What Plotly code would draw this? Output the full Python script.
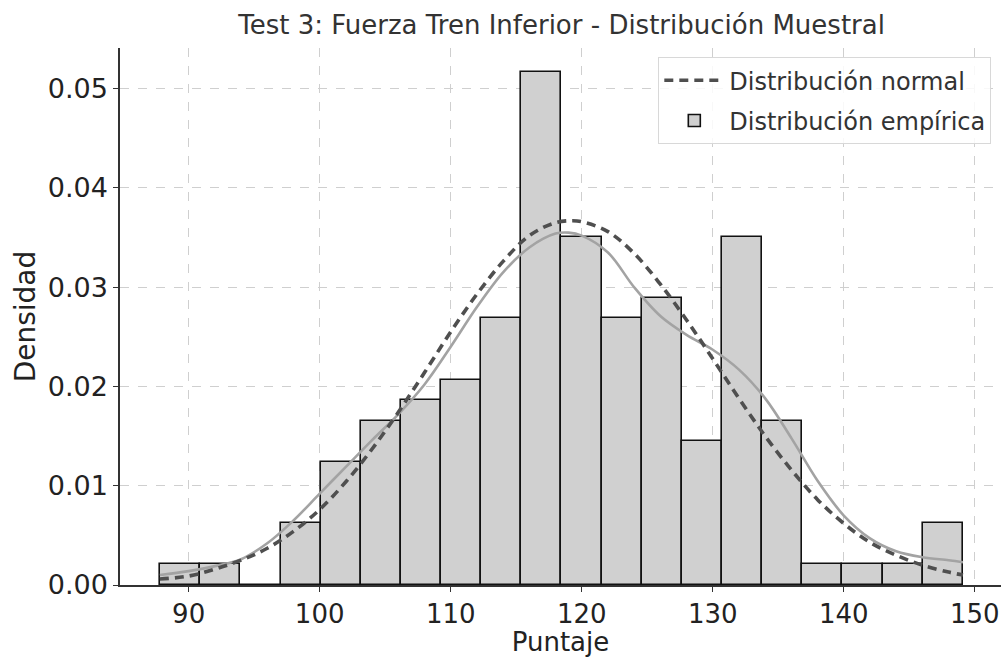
import plotly.graph_objects as go

# Histogram bin edges (Puntaje) and densities
bin_edges = [87.82, 90.88, 93.95, 97.01, 100.07, 103.14, 106.20, 109.26, 112.33,
             115.39, 118.45, 121.51, 124.58, 127.64, 130.70, 133.77, 136.83,
             139.89, 142.96, 146.02, 149.08]
densities = [0.00207, 0.00207, 0.0, 0.0062, 0.0124, 0.0165, 0.0186, 0.0207, 0.0269,
             0.0517, 0.0351, 0.0269, 0.0289, 0.0145, 0.0351, 0.0165,
             0.00207, 0.00207, 0.00207, 0.0062]

# Normal distribution curve (dashed)
normal_x = [87.8, 90, 92, 94, 96, 98, 100, 102, 104, 106, 108, 110, 112, 114, 116,
            118, 119.3, 120, 122, 124, 126, 128, 130, 132, 134, 136, 138, 140,
            142, 144, 146, 148, 149.1]
normal_y = [0.0006, 0.0009, 0.0016, 0.0025, 0.0037, 0.0054, 0.0076, 0.0104, 0.0137,
            0.0174, 0.0214, 0.0255, 0.0293, 0.0326, 0.0352, 0.0365, 0.0367, 0.0366,
            0.0356, 0.0334, 0.0303, 0.0267, 0.0228, 0.0188, 0.0150, 0.0116, 0.0086,
            0.0062, 0.0043, 0.0030, 0.0020, 0.0013, 0.0010]

kde_x = [87.8, 90, 92, 94, 96, 98, 100, 102, 104, 106, 108, 110, 112, 114, 116,
         118, 119, 120, 122, 124, 126, 128, 130, 132, 134, 136, 138, 140, 142,
         144, 146, 148, 149.1]
kde_y = [0.0010, 0.0014, 0.0019, 0.0026, 0.0042, 0.0065, 0.0092, 0.0119, 0.0146,
         0.0172, 0.0202, 0.0240, 0.0280, 0.0315, 0.0340, 0.0354, 0.0355, 0.0352,
         0.0335, 0.0300, 0.0271, 0.0252, 0.0237, 0.0217, 0.0188, 0.0148, 0.0105,
         0.0070, 0.0047, 0.0034, 0.0028, 0.0025, 0.0023]

x_ticks = [90, 100, 110, 120, 130, 140, 150]
y_ticks = [0.00, 0.01, 0.02, 0.03, 0.04, 0.05]

centers = [(a + b) / 2 for a, b in zip(bin_edges[:-1], bin_edges[1:])]
widths = [b - a for a, b in zip(bin_edges[:-1], bin_edges[1:])]

FONT = "DejaVu Sans"

fig = go.Figure()
fig.add_trace(go.Bar(
    x=centers, y=densities, width=widths,
    marker=dict(color="#d0d0d0", line=dict(color="#111111", width=1.6)),
    name="Distribución empírica", legendrank=2, legendgroup="b",
))
fig.add_trace(go.Scatter(
    x=kde_x, y=kde_y, mode="lines", line=dict(color="#a3a3a3", width=2.6, shape="spline"),
    showlegend=False, hoverinfo="skip",
))
fig.add_trace(go.Scatter(
    x=normal_x, y=normal_y, mode="lines",
    line=dict(color="#4f4f4f", width=3.6, dash="9px,6px", shape="spline"),
    name="Distribución normal", legendrank=1, legendgroup="a",
))

axis_common = dict(
    showline=True, linecolor="#333333", linewidth=1.5, mirror=False,
    ticks="outside", ticklen=5, tickwidth=1.2, tickcolor="#333333",
    showgrid=True, gridcolor="#cfcfcf", gridwidth=1, griddash="dash",
    zeroline=False, automargin=False,
)

fig.update_layout(
    width=1001, height=657,
    margin=dict(l=120, r=0, t=48, b=72),
    paper_bgcolor="white", plot_bgcolor="white",
    bargap=0,
    title=dict(text="Test 3: Fuerza Tren Inferior - Distribución Muestral",
               font=dict(family=FONT, size=26, color="#333333"),
               x=0.561, xanchor="center", y=0.962, yanchor="middle"),
    xaxis=dict(range=[84.76, 152.0], tickvals=x_ticks,
               tickfont=dict(family=FONT, size=26, color="#222222"),
               title=dict(text="Puntaje", font=dict(family=FONT, size=26, color="#222222"), standoff=8),
               **axis_common),
    yaxis=dict(range=[0, 0.0541], tickvals=y_ticks, tickformat=".2f",
               tickfont=dict(family=FONT, size=27, color="#222222"),
               title=dict(text="Densidad", font=dict(family=FONT, size=28, color="#222222"), standoff=4),
               **axis_common),
    legend=dict(x=0.989, y=0.983, xanchor="right", yanchor="top",
                bgcolor="rgba(255,255,255,0.85)", bordercolor="#d8d8d8", borderwidth=1,
                font=dict(family=FONT, size=24, color="#333333"),
                traceorder="grouped", itemwidth=60, tracegroupgap=6),
    showlegend=True,
)

fig.write_html("out.html")
